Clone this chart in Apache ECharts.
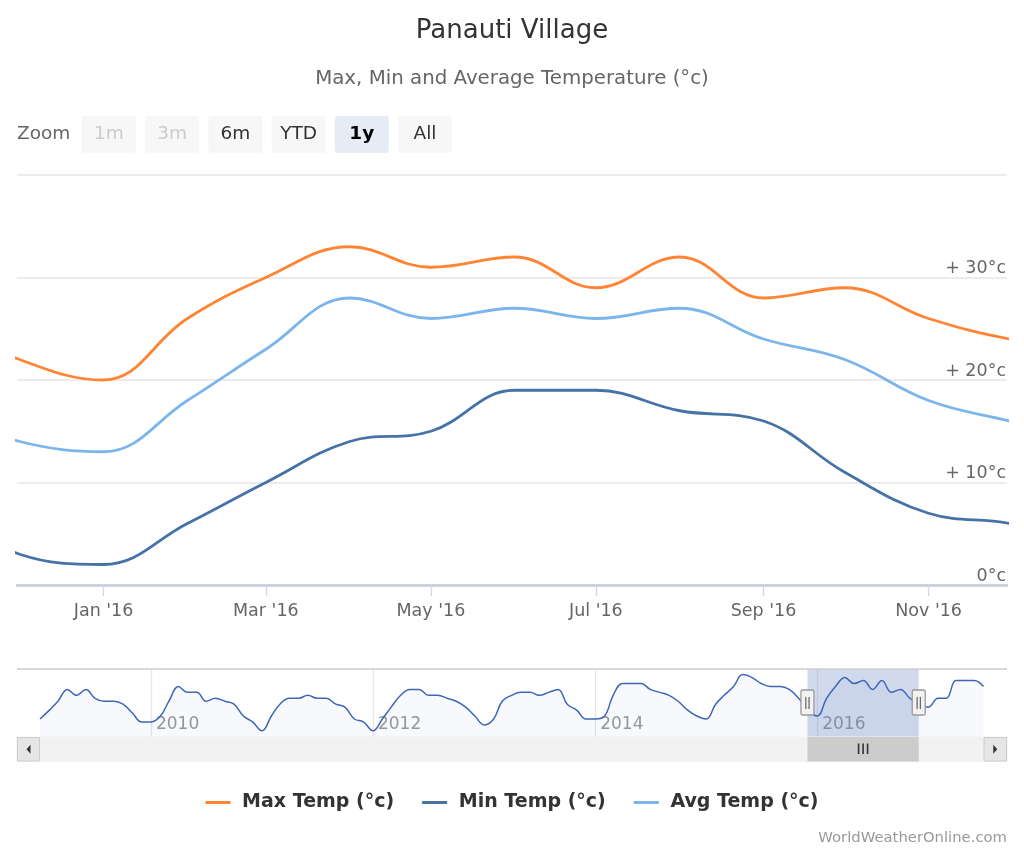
<!DOCTYPE html>
<html><head><meta charset="utf-8">
<script src="https://cdn.jsdelivr.net/npm/echarts@6/dist/echarts.min.js"></script>
<style>html,body{margin:0;padding:0;background:#fff}#c{width:1024px;height:853px}</style>
</head><body><div id="c"></div>
<script>
// ---------- DATA ----------
const chartTitle = 'Panauti Village';
const chartSubtitle = 'Max, Min and Average Temperature (°c)';
const creditText = 'WorldWeatherOnline.com';
const seriesNames = ['Max Temp (°c)', 'Min Temp (°c)', 'Avg Temp (°c)'];
// monthly Max temperature, Jan 2009 .. Jul 2017 (shown in navigator and main chart)
const maxTempStart = [2009, 1];
const maxTemp = [
  19,22,25,29,27,29,26,25,25,24,21,18,
  18,20,25,30,28,28,25,26,25,24,20,18,
  15,20,24,26,26,27,26,26,24,23,19,18,
  15,19,23,27,29,29,27,27,26,25,23,20,
  17,19,25,27,28,28,27,28,29,24,22,19,
  19,20,27,31,31,31,29,28,27,25,22,20,
  19,24,27,30,34,33,31,30,30,29,26,22,
  20,26,30,33,31,32,29,32,28,29,26,24,
  23,26,26,32,32,32,30
];
// monthly Min / Avg temperature, Nov 2015 .. Jan 2017
const windowSeriesStart = [2015, 11];
const minTemp = [8, 3, 2, 6, 10, 14, 15, 19, 19, 17, 16, 11, 7, 6, 4];
const avgTemp = [17, 14, 13, 18, 23, 28, 26, 27, 26, 27, 24, 22, 18, 16, 14];
const xTickDates = ['2016-01-01','2016-03-01','2016-05-01','2016-07-01','2016-09-01','2016-11-01'];
const xTickLabels = ["Jan '16","Mar '16","May '16","Jul '16","Sep '16","Nov '16"];
const yTickValues = [0, 10, 20, 30, 40];
const yTickLabels = ['0°c', '+ 10°c', '+ 20°c', '+ 30°c', ''];
const navYearDates = ['2010-01-01','2012-01-01','2014-01-01','2016-01-01'];
const navYearLabels = ['2010','2012','2014','2016'];
const windowStart = '2015-11-30', windowEnd = '2016-11-30';
const navStart = '2009-01-01', navEnd = '2017-07-01';
const zoomButtons = ['1m','3m','6m','YTD','1y','All'];
const zoomDisabled = ['1m','3m'];
const zoomSelected = '1y';
const colors = ['#ff8534', '#4572a7', '#7cb5ec'];

// ---------- helpers ----------
function ts(s) { const p = s.split('-').map(Number); return Date.UTC(p[0], p[1]-1, p[2]); }
function monthly(start, values) {
  return values.map((v, i) => [Date.UTC(start[0], start[1]-1+i, 1), v]);
}
function lookup(vals, labels) {
  return function (v) {
    for (let i = 0; i < vals.length; i++) if (Math.abs(vals[i] - v) < 1000) return labels[i];
    return '';
  };
}
const FONT = 'DejaVu Sans';
const xTickTs = xTickDates.map(ts);
const navTs = navYearDates.map(ts);
const maxData = monthly(maxTempStart, maxTemp);
const minData = monthly(windowSeriesStart, minTemp);
const avgData = monthly(windowSeriesStart, avgTemp);

const chart = echarts.init(document.getElementById('c'), null, {renderer: 'canvas'});
const lineCommon = { type: 'line', smooth: 0.4, showSymbol: false, symbol: 'none', silent: true, emphasis: {disabled: true} };

chart.setOption({
  animation: false,
  backgroundColor: '#ffffff',
  textStyle: { fontFamily: FONT },
  title: [
    { text: chartTitle, left: 'center', top: 13, textStyle: { fontFamily: FONT, fontSize: 26, fontWeight: 'normal', color: '#333333' } },
    { text: chartSubtitle, left: 'center', top: 64, textStyle: { fontFamily: FONT, fontSize: 19.8, fontWeight: 'normal', color: '#666666' } }
  ],
  legend: {
    data: seriesNames, left: 'center', top: 788, itemWidth: 25, itemHeight: 3, icon: 'rect', itemGap: 28,
    formatter: n => ' ' + n,
    textStyle: { fontFamily: FONT, fontSize: 19, fontWeight: 'bold', color: '#333333' },
    selectedMode: false
  },
  grid: [
    { left: 17, right: 17, top: 175, height: 410, outerBoundsMode: 'none', containLabel: false },
    { left: 40, right: 40.5, top: 669, height: 68, outerBoundsMode: 'none', containLabel: false }
  ],
  xAxis: [
    { type: 'value', gridIndex: 0, min: ts(windowStart), max: ts(windowEnd),
      axisLine: { show: true, lineStyle: { color: '#c6ccd8', width: 2.5 } },
      axisTick: { show: true, length: 11, customValues: xTickTs, lineStyle: { color: '#ccd6eb', width: 1.3 } },
      axisLabel: { customValues: xTickTs, formatter: lookup(xTickTs, xTickLabels), color: '#666666', fontSize: 17.5, fontFamily: FONT, margin: 17 },
      splitLine: { show: false } },
    { type: 'value', gridIndex: 1, min: ts(navStart), max: ts(navEnd),
      axisLine: { show: false },
      axisTick: { show: false, customValues: navTs },
      axisLabel: { inside: true, customValues: navTs, formatter: lookup(navTs, navYearLabels), color: '#999999', fontSize: 17, fontFamily: FONT, align: 'left', padding: [0,0,0,5], margin: 4 },
      splitLine: { show: true, lineStyle: { color: '#e6e6e6', width: 1.3 } } }
  ],
  yAxis: [
    { type: 'value', gridIndex: 0, position: 'right', min: 0, max: 40, interval: 10,
      axisLine: { show: false }, axisTick: { show: false },
      splitLine: { show: true, lineStyle: { color: '#e6e6e6', width: 1.5 } },
      axisLabel: { inside: true, align: 'right', verticalAlign: 'bottom', margin: 1, color: '#666666', fontSize: 17.5, fontFamily: FONT,
        formatter: v => yTickLabels[yTickValues.indexOf(v)] || '' } },
    { type: 'value', gridIndex: 1, min: 12.9, max: 35.9, show: false }
  ],
  series: [
    Object.assign({}, lineCommon, { name: seriesNames[0], xAxisIndex: 0, yAxisIndex: 0, data: maxData, color: colors[0], lineStyle: { width: 2.8, color: colors[0] }, z: 3 }),
    Object.assign({}, lineCommon, { name: seriesNames[1], xAxisIndex: 0, yAxisIndex: 0, data: minData, color: colors[1], lineStyle: { width: 2.8, color: colors[1] }, z: 3 }),
    Object.assign({}, lineCommon, { name: seriesNames[2], xAxisIndex: 0, yAxisIndex: 0, data: avgData, color: colors[2], lineStyle: { width: 2.8, color: colors[2] }, z: 3 }),
    Object.assign({}, lineCommon, { name: 'navigator', xAxisIndex: 1, yAxisIndex: 1, data: maxData, color: '#3d66b8',
      lineStyle: { width: 1.5, color: '#3d66b8' }, areaStyle: { color: 'rgba(51,92,173,0.05)', origin: 'start' },
      markArea: { silent: true, itemStyle: { color: 'rgba(102,133,194,0.3)' }, data: [[{ xAxis: ts(windowStart) }, { xAxis: ts(windowEnd) }]] } })
  ]
});

// ---------- decorations (range selector, navigator handles, scrollbar, credits) ----------
(function () {
const g = [];
g.push({ type: 'text', x: 17, y: 134, style: { text: 'Zoom', fontFamily: FONT, fontSize: 18.5, fill: '#666666', verticalAlign: 'middle', align: 'left' } });
zoomButtons.forEach((b, i) => {
  const x = 82 + i * 63.2;
  const sel = b === zoomSelected, dis = zoomDisabled.indexOf(b) >= 0;
  g.push({ type: 'rect', shape: { x: x, y: 116, width: 54, height: 37, r: 3 }, style: { fill: sel ? '#e6ebf5' : '#f7f7f7' } });
  g.push({ type: 'text', x: x + 27, y: 134.5, style: { text: b, fontFamily: FONT, fontSize: 18.5, fontWeight: sel ? 'bold' : 'normal',
    fill: dis ? '#cccccc' : (sel ? '#000000' : '#333333'), align: 'center', verticalAlign: 'middle' } });
});
const navLeft = 40, navRight = 1024 - 40.5, nTop = 669, nBot = 669 + 68, L = 17, R = 1007;
const xs = chart.convertToPixel({ xAxisIndex: 1 }, ts(windowStart));
const xe = chart.convertToPixel({ xAxisIndex: 1 }, ts(windowEnd));
g.push({ type: 'line', shape: { x1: L, y1: nTop, x2: R, y2: nTop }, style: { stroke: '#cccccc', lineWidth: 1.5 } });
const sh = 24.5;
g.push({ type: 'rect', shape: { x: L, y: nBot, width: R - L, height: sh }, style: { fill: '#f2f2f2', stroke: '#f2f2f2' } });
g.push({ type: 'rect', shape: { x: xs, y: nBot, width: xe - xs, height: sh }, style: { fill: '#cccccc' } });
const cx = (xs + xe) / 2;
[-4.5, 0, 4.5].forEach(d => g.push({ type: 'line', shape: { x1: cx + d, y1: nBot + 6.5, x2: cx + d, y2: nBot + 17 }, style: { stroke: '#333333', lineWidth: 1.6 } }));
g.push({ type: 'rect', shape: { x: L + 0.5, y: nBot + 0.5, width: navLeft - L - 1, height: sh - 1 }, style: { fill: '#e6e6e6', stroke: '#cccccc', lineWidth: 1 } });
g.push({ type: 'rect', shape: { x: navRight + 0.5, y: nBot + 0.5, width: R - navRight - 1, height: sh - 1 }, style: { fill: '#e6e6e6', stroke: '#cccccc', lineWidth: 1 } });
const lcx = (L + navLeft) / 2, rcx = (navRight + R) / 2, cy = nBot + sh / 2;
g.push({ type: 'polygon', shape: { points: [[lcx + 2, cy - 4.5], [lcx + 2, cy + 4.5], [lcx - 2, cy]] }, style: { fill: '#333333' } });
g.push({ type: 'polygon', shape: { points: [[rcx - 2, cy - 4.5], [rcx - 2, cy + 4.5], [rcx + 2, cy]] }, style: { fill: '#333333' } });
[xs, xe].forEach(hx => {
  g.push({ type: 'rect', shape: { x: hx - 6.5, y: nTop + 21, width: 13, height: 25, r: 1.5 }, style: { fill: '#f2f2f2', stroke: '#999999', lineWidth: 1.3 } });
  [-1.6, 1.6].forEach(d => g.push({ type: 'line', shape: { x1: hx + d, y1: nTop + 28, x2: hx + d, y2: nTop + 40 }, style: { stroke: '#555555', lineWidth: 1.1 } }));
});
g.push({ type: 'text', x: R, y: 838, style: { text: creditText, fontFamily: FONT, fontSize: 14.8, fill: '#999999', align: 'right', verticalAlign: 'middle' } });
chart.setOption({ graphic: g.map(e => Object.assign({ z: 100, silent: true }, e)) });
})();
</script></body></html>
